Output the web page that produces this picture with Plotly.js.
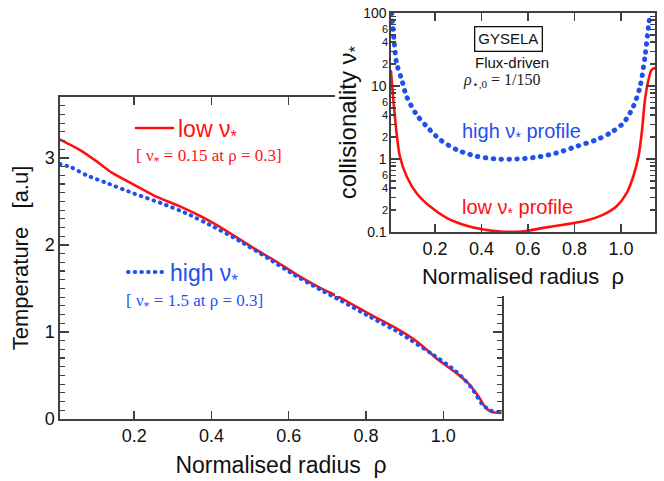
<!DOCTYPE html>
<html>
<head>
<meta charset="utf-8">
<script src="https://cdn.plot.ly/plotly-3.0.1.min.js"></script>
<style>
html,body{margin:0;padding:0;background:#fff;}
#chart{width:664px;height:481px;}
path.js-line, .legendlines path {stroke-linecap: round;}
</style>
</head>
<body>
<div id="chart"></div>
<script>
// ---- Main panel: temperature profiles ----
var rhoTLow  = [0.008,0.06,0.103,0.142,0.2,0.25,0.32,0.372,0.405,0.457,0.51,0.56,0.613,0.68,0.735,0.812,0.883,0.935,0.987,1.039,1.065,1.091,1.108,1.125,1.148];
var tempLow  = [3.21,3.09,2.96,2.83,2.69,2.57,2.44,2.33,2.25,2.11,1.96,1.83,1.68,1.51,1.39,1.20,1.03,0.88,0.68,0.51,0.41,0.26,0.14,0.08,0.07];
var rhoTHigh = [0.008,0.038,0.077,0.13,0.2,0.27,0.337,0.405,0.475,0.545,0.613,0.68,0.735,0.812,0.883,0.918,0.97,1.021,1.047,1.073,1.099,1.12,1.143];
var tempHigh = [2.93,2.89,2.80,2.71,2.59,2.48,2.36,2.21,2.04,1.85,1.66,1.49,1.36,1.17,1.00,0.90,0.75,0.59,0.49,0.36,0.18,0.10,0.08];

// ---- Inset: collisionality profiles ----
var rhoNuHigh = [0.014,0.024,0.035,0.057,0.078,0.121,0.164,0.222,0.293,0.379,0.465,0.551,0.637,0.723,0.809,0.895,0.953,1.01,1.053,1.082,1.103,1.118,1.125];
var nuHigh    = [100,43,20.6,12.2,7.2,4.05,2.8,1.84,1.34,1.09,1.0,1.0,1.06,1.21,1.49,1.84,2.27,3.11,5.26,9.9,25.5,65.6,95];
var rhoNuLow  = [0.011,0.021,0.035,0.049,0.078,0.121,0.178,0.25,0.322,0.408,0.494,0.58,0.666,0.752,0.838,0.924,0.981,1.024,1.053,1.075,1.089,1.103,1.118,1.132,1.15];
var nuLow     = [15.9,6.5,2.27,1.09,0.58,0.34,0.225,0.156,0.126,0.108,0.101,0.102,0.114,0.126,0.14,0.173,0.225,0.34,0.58,1.09,2.27,6.5,12.2,16.7,17.7];

// tick labels
var mainXTicks = [0.2,0.4,0.6,0.8,1.0];
var mainYTicks = [0,1,2,3];
var insetYMajor = [0.1,1,10,100];
var insetYMajorText = ['0.1','1','10','100'];
var insetYMinorLabelVals = [0.2,0.4,0.6,2,4,6,20,40,60];
var insetYMinorLabelText = ['2','4','6','2','4','6','2','4','6'];
var insetYMinorTicks = [0.2,0.3,0.4,0.5,0.6,0.7,0.8,0.9,2,3,4,5,6,7,8,9,20,30,40,50,60,70,80,90];

var W = 664, H = 481;
function px(x){return x/W;}
function py(y){return 1-y/H;}

var RED = '#ff1010', BLUE = '#1f4fef', AX = '#404040';
var SANS = 'Liberation Sans, Arial, sans-serif';
var SERIF = 'Liberation Serif, Times New Roman, serif';

var traces = [
  {x:rhoTLow, y:tempLow, xaxis:'x', yaxis:'y', mode:'lines', line:{color:RED, width:2.6, shape:'spline', smoothing:0.6},
   name:'low \u03bd<sub>*</sub>', legend:'legend', showlegend:true},
  {x:rhoTHigh, y:tempHigh, xaxis:'x', yaxis:'y', mode:'lines', line:{color:BLUE, width:4, dash:'0.5px,6.2px', shape:'spline', smoothing:0.6},
   name:'high \u03bd<sub>*</sub>', legend:'legend2', showlegend:true},
  {x:[], y:[], xaxis:'x2', yaxis:'y2', mode:'lines', showlegend:false, hoverinfo:'skip'},
  {x:rhoNuHigh, y:nuHigh, xaxis:'x3', yaxis:'y3', mode:'lines', line:{color:BLUE, width:5, dash:'0.5px,7.4px', shape:'spline', smoothing:0.8}, showlegend:false},
  {x:rhoNuLow, y:nuLow, xaxis:'x3', yaxis:'y3', mode:'lines', line:{color:RED, width:2.6, shape:'spline', smoothing:0.8}, showlegend:false},
  {x:[], y:[], xaxis:'x3', yaxis:'y4', mode:'lines', showlegend:false, hoverinfo:'skip'}
];

var axCommon = {showline:true, linecolor:AX, linewidth:1.6, ticks:'inside', tickcolor:AX, tickwidth:1.4,
                showgrid:false, zeroline:false, mirror:'ticks'};

var layout = {
  width:W, height:H,
  margin:{l:0, r:0, t:0, b:0},
  paper_bgcolor:'#ffffff', plot_bgcolor:'#ffffff',
  font:{family:SANS, color:'#111'},
  xaxis: Object.assign({}, axCommon, {
    domain:[px(60), px(502)], anchor:'y', range:[0.008,1.152],
    tickmode:'array', tickvals:mainXTicks, tickformat:'.1f', ticklen:8,
    tickfont:{size:18, family:SANS, color:'#111'},
    title:{text:'Normalised radius\u00a0\u00a0\u03c1', font:{size:23, family:SANS, color:'#111'}, standoff:11}
  }),
  yaxis: Object.assign({}, axCommon, {
    domain:[py(419), py(97)], anchor:'x', range:[0,3.7],
    tickmode:'array', tickvals:mainYTicks, ticklen:9,
    minor:{dtick:0.1, ticks:'inside', ticklen:5, tickcolor:AX, tickwidth:1.2, showgrid:false},
    tickfont:{size:18, family:SANS, color:'#111'},
    title:{text:'Temperature\u00a0\u00a0\u00a0[a.u]', font:{size:22, family:SANS, color:'#111'}, standoff:10}
  }),
  // blank white cover (inset background)
  xaxis2:{domain:[px(335), 1], anchor:'y2', visible:false, range:[0,1]},
  yaxis2:{domain:[py(296), 1], anchor:'x2', visible:false, range:[0,1]},
  // inset
  xaxis3: Object.assign({}, axCommon, {
    domain:[px(391), px(655)], anchor:'y3', range:[0.011,1.146],
    tickmode:'array', tickvals:mainXTicks, tickformat:'.1f', ticklen:8,
    tickfont:{size:18, family:SANS, color:'#111'},
    title:{text:'Normalised radius\u00a0\u00a0\u03c1', font:{size:22, family:SANS, color:'#111'}, standoff:10}
  }),
  yaxis3: Object.assign({}, axCommon, {
    domain:[py(232), py(13)], anchor:'x3', type:'log', range:[-1,2],
    tickmode:'array', tickvals:insetYMajor, ticktext:insetYMajorText, ticklen:9,
    minor:{tickmode:'array', tickvals:insetYMinorTicks, ticks:'inside', ticklen:5, tickcolor:AX, tickwidth:1.2, showgrid:false},
    tickfont:{size:14, family:SANS, color:'#111'},
    title:{text:'collisionality \u03bd<sub>*</sub>', font:{size:24, family:SANS, color:'#111'}, standoff:0}
  }),
  yaxis4:{overlaying:'y3', anchor:'x3', side:'left', type:'log', range:[-1,2], showline:false, showgrid:false, zeroline:false,
    tickmode:'array', tickvals:insetYMinorLabelVals, ticktext:insetYMinorLabelText, ticks:'',
    tickfont:{size:11, family:SANS, color:'#111'}, ticklabelstandoff:2},
  legend:{x:px(131), y:py(128), xanchor:'left', yanchor:'middle', bgcolor:'rgba(0,0,0,0)', borderwidth:0,
    font:{family:SANS, size:23, color:RED}, itemwidth:37},
  legend2:{x:px(123), y:py(272), xanchor:'left', yanchor:'middle', bgcolor:'rgba(0,0,0,0)', borderwidth:0,
    font:{family:SANS, size:23, color:BLUE}, itemwidth:37},
  annotations:[
    {xref:'paper', yref:'paper', x:px(134), y:py(157), xanchor:'left', yanchor:'middle', showarrow:false,
     text:'[ \u03bd<sub>*</sub> = 0.15 at \u03c1 = 0.3]', font:{family:SERIF, size:17, color:RED}},
    {xref:'paper', yref:'paper', x:px(124), y:py(302), xanchor:'left', yanchor:'middle', showarrow:false,
     text:'[ \u03bd<sub>*</sub> = 1.5 at \u03c1 = 0.3]', font:{family:SERIF, size:17, color:BLUE}},
    {xref:'paper', yref:'paper', x:px(508), y:py(39), xanchor:'center', yanchor:'middle', showarrow:false,
     text:'GYSELA', font:{family:SANS, size:15, color:'#111'}, bordercolor:'#111', borderwidth:1.3, borderpad:3},
    {xref:'paper', yref:'paper', x:px(512), y:py(62), xanchor:'center', yanchor:'middle', showarrow:false,
     text:'Flux-driven', font:{family:SANS, size:15, color:'#111'}},
    {xref:'paper', yref:'paper', x:px(502), y:py(81), xanchor:'center', yanchor:'middle', showarrow:false,
     text:'<i>\u03c1</i><sub>\u22c6,0</sub> = 1/150', font:{family:SERIF, size:16, color:'#222'}},
    {xref:'paper', yref:'paper', x:px(521), y:py(132), xanchor:'center', yanchor:'middle', showarrow:false,
     text:'high \u03bd<sub>*</sub> profile', font:{family:SANS, size:20, color:BLUE}},
    {xref:'paper', yref:'paper', x:px(517), y:py(208), xanchor:'center', yanchor:'middle', showarrow:false,
     text:'low \u03bd<sub>*</sub> profile', font:{family:SANS, size:20, color:RED}}
  ]
};

Plotly.newPlot('chart', traces, layout, {staticPlot:true, displayModeBar:false});
</script>
</body>
</html>
